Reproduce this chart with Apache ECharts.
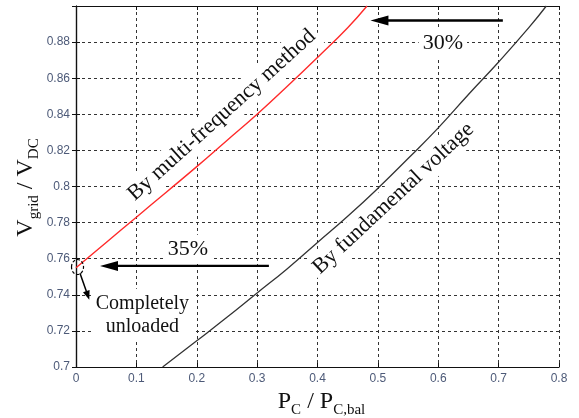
<!DOCTYPE html>
<html>
<head>
<meta charset="utf-8">
<script src="https://cdn.jsdelivr.net/npm/echarts@6/dist/echarts.min.js"></script>
<style>html,body{margin:0;padding:0;background:#fff}#c{width:579px;height:418px}</style>
</head>
<body>
<div id="c"></div>
<script>
// ---- data ----
const xTicks = [0, 0.1, 0.2, 0.3, 0.4, 0.5, 0.6, 0.7, 0.8];
const yTicks = [0.7, 0.72, 0.74, 0.76, 0.78, 0.8, 0.82, 0.84, 0.86, 0.88];
const multiFreqX = [0, 0.05, 0.1, 0.15, 0.2, 0.25, 0.3, 0.35, 0.4, 0.45, 0.482];
const multiFreqY = [0.755, 0.769, 0.783, 0.797, 0.811, 0.8255, 0.840, 0.8555, 0.8715, 0.888, 0.9];
const fundX = [0.1435, 0.2, 0.25, 0.3, 0.35, 0.4, 0.45, 0.5, 0.55, 0.6, 0.65, 0.7, 0.75, 0.779];
const fundY = [0.7, 0.7145, 0.7275, 0.741, 0.7545, 0.769, 0.7835, 0.799, 0.8155, 0.8325, 0.851, 0.869, 0.888, 0.9];
// annotation anchors (data coordinates)
const labelTexts = ['By multi-frequency method', 'By fundamental voltage', '30%', '35%', 'Completely\nunloaded'];
const labelPos = [[0.2415, 0.8395], [0.5257, 0.7934], [0.6076, 0.8795], [0.1854, 0.7652], [0.110, 0.7289]];
const labelRot = [42, 43, 0, 0, 0];
const arrowFrom = [[0.707, 0.892], [0.3195, 0.756], [0.0066, 0.7519]];
const arrowTo = [[0.4877, 0.892], [0.0397, 0.756], [0.022, 0.7373]];
const circlePos = [0.0025, 0.7554];

const zip = (a, b) => a.map((v, i) => [v, b[i]]);
const chart = echarts.init(document.getElementById('c'), null, {renderer: 'canvas'});
const tickColor = '#4d5a78';
const serif = 'Liberation Serif, Times New Roman';
const gridStyle = {show: true, lineStyle: {color: '#333', type: [3, 3], width: 1}};
const nameRich = {
  n: {fontFamily: serif, fontSize: 24, color: '#111', lineHeight: 28, verticalAlign: 'top'},
  s: {fontFamily: serif, fontSize: 15, color: '#111', lineHeight: 28, verticalAlign: 'bottom'}
};
chart.setOption({
  animation: false,
  backgroundColor: '#fff',
  grid: {left: 76, right: 20, top: 6, bottom: 51, containLabel: false, outerBoundsMode: 'none'},
  xAxis: [{
    type: 'value', min: 0, max: 0.8, interval: 0.1,
    axisLine: {lineStyle: {color: '#111', width: 1.2}},
    axisTick: {inside: true, length: 4, lineStyle: {color: '#111'}},
    axisLabel: {color: tickColor, fontFamily: 'Liberation Sans, Arial', fontSize: 12, margin: 6,
      formatter: v => String(+v.toFixed(2))},
    splitLine: gridStyle,
    name: '{n|P}{s|C}{n| / P}{s|C,bal}',
    nameLocation: 'middle', nameGap: 23, nameMoveOverlap: false,
    nameTextStyle: {padding: [0, 0, 0, 8], rich: nameRich}
  }, {
    type: 'value', min: 0, max: 0.8, interval: 0.1, position: 'top',
    axisLine: {show: true, lineStyle: {color: '#111', width: 1.2}},
    axisTick: {show: true, inside: true, length: 4, lineStyle: {color: '#111'}},
    axisLabel: {show: false}, splitLine: {show: false}
  }],
  yAxis: [{
    type: 'value', min: 0.7, max: 0.9, interval: 0.02,
    axisLine: {show: true, lineStyle: {color: '#111', width: 1.2}},
    axisTick: {show: true, inside: true, length: 4, lineStyle: {color: '#111'}},
    axisLabel: {color: tickColor, fontFamily: 'Liberation Sans, Arial', fontSize: 12, margin: 6, showMaxLabel: false,
      formatter: v => String(+v.toFixed(2))},
    splitLine: gridStyle,
    name: '{n|V}{s|grid}{n| / V}{s|DC}',
    nameLocation: 'middle', nameRotate: 90, nameGap: 34, nameMoveOverlap: false,
    nameTextStyle: {padding: [0, 2, 0, 0], rich: nameRich}
  }, {
    type: 'value', min: 0.7, max: 0.9, interval: 0.02, position: 'right',
    axisLine: {show: true, lineStyle: {color: '#111', width: 1.2}},
    axisTick: {show: true, inside: true, length: 4, lineStyle: {color: '#111'}},
    axisLabel: {show: false}, splitLine: {show: false}
  }],
  series: [{
    name: 'By multi-frequency method', type: 'line', data: zip(multiFreqX, multiFreqY),
    smooth: true, showSymbol: false, lineStyle: {color: '#ff2a2a', width: 1.4}, clip: true, z: 5
  }, {
    name: 'By fundamental voltage', type: 'line', data: zip(fundX, fundY),
    smooth: true, showSymbol: false, lineStyle: {color: '#333', width: 1.3}, clip: true, z: 5
  }]
});

// annotations through the chart's own scale
const px = p => chart.convertToPixel({xAxisIndex: 0, yAxisIndex: 0}, p);
const g = [];
const fonts = [22, 22, 22, 22, 20];
labelTexts.forEach((t, i) => {
  const p = px(labelPos[i]);
  g.push({type: 'text', x: p[0], y: p[1], z: 1, rotation: labelRot[i] * Math.PI / 180,
    style: {text: t, fill: '#111', font: fonts[i] + 'px "Liberation Serif", "Times New Roman", serif',
      align: 'center', verticalAlign: 'middle', lineHeight: 23,
      backgroundColor: '#fff', padding: [3, 4]}});
});
const heads = [[18, 5, 2.4], [18, 5, 2.4], [9, 3.5, 1.5]];
arrowFrom.forEach((f, i) => {
  const a = px(f), b = px(arrowTo[i]);
  const [L, W, lw] = heads[i];
  const dx = b[0] - a[0], dy = b[1] - a[1], len = Math.hypot(dx, dy);
  const ux = dx / len, uy = dy / len;
  const bx = b[0] - ux * L, by = b[1] - uy * L;
  g.push({type: 'line', z: 10, shape: {x1: a[0], y1: a[1], x2: bx + ux * 2, y2: by + uy * 2}, style: {stroke: '#000', lineWidth: lw}});
  g.push({type: 'polygon', z: 10, shape: {points: [[b[0], b[1]], [bx - uy * W, by + ux * W], [bx + uy * W, by - ux * W]]}, style: {fill: '#000'}});
});
const c = px(circlePos);
g.push({type: 'ellipse', z: 10, shape: {cx: c[0], cy: c[1], rx: 6, ry: 7.5}, style: {fill: 'none', stroke: '#000', lineWidth: 1.2, lineDash: [3, 2]}});
chart.setOption({graphic: g});
</script>
</body>
</html>
